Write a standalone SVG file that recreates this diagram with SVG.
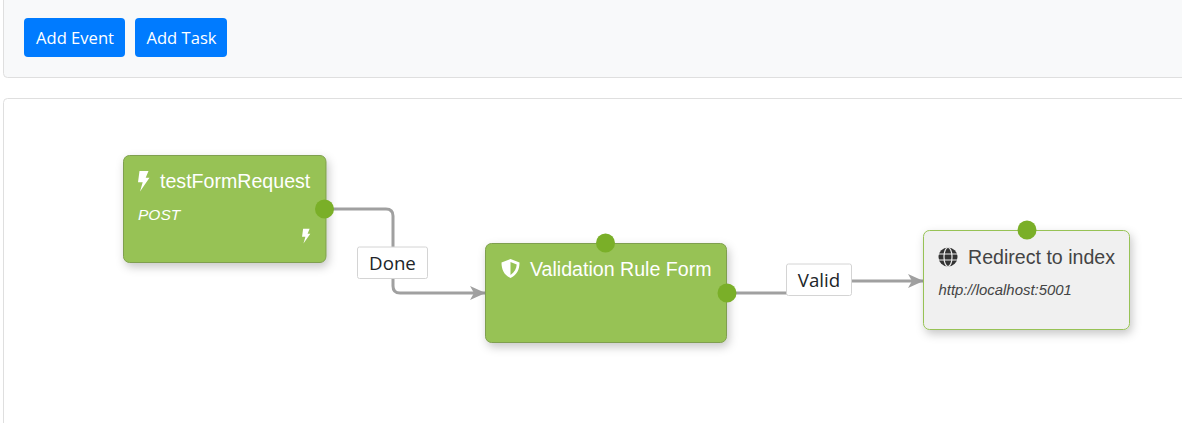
<svg xmlns="http://www.w3.org/2000/svg" width="1182" height="423" viewBox="0 0 1182 423">
<style>
.ui{font-family:"Open Sans","Noto Sans","Liberation Sans",sans-serif}
.btn{fill:#007bff}
.btnt{fill:#fff;font-size:16.6px;text-anchor:middle}
.panel{stroke:#dfdfdf;stroke-width:1}
.node{fill:#97c255;stroke:#7f9f4f;stroke-width:1;filter:url(#sh)}
.t{font-family:"Liberation Sans",Arial,sans-serif}
.tt{font-size:19.6px;fill:#fff}
.port{fill:#7aaf28}
.conn{fill:none;stroke:#a0a0a0;stroke-width:3}
.lb{fill:#fff;stroke:#d4d4d4;stroke-width:1}
.lbt{font-size:18.7px;fill:#212529;text-anchor:middle}
</style>
<defs>
<filter id="sh" x="-15%" y="-20%" width="130%" height="145%"><feDropShadow dx="2" dy="4" stdDeviation="5" flood-color="#000" flood-opacity="0.22"/></filter>
<marker id="arr" markerUnits="userSpaceOnUse" markerWidth="18" markerHeight="18" refX="16" refY="9" orient="auto" viewBox="0 0 18 18"><path d="M0.5 2 L16 9 L0.5 16 L4.5 9 Z" fill="#a0a0a0"/></marker>
<path id="bolt" d="M-4 -10 H5 L2.2 -3.2 H6 L-3.500 10.500 L-0.8 1.2 H-5.500 Z"/>
</defs>
<rect width="1182" height="423" fill="#fff"/>
<g id="toolbar">
<rect class="panel" x="3.500" y="-6" width="1190" height="83.500" rx="4" fill="#f8f9fa"/>
<rect class="panel" x="3.500" y="98.500" width="1190" height="340" rx="4" fill="#fff"/>
</g>
<g id="btn-add-event"><rect class="btn" x="24" y="18" width="101" height="39" rx="4"/><text class="ui btnt" x="75" y="43.500">Add Event</text></g>
<g id="btn-add-task"><rect class="btn" x="135" y="18" width="92" height="39" rx="4"/><text class="ui btnt" x="181.500" y="43.500">Add Task</text></g>
<g id="connectors">
<path class="conn" d="M325 209 H386 Q393 209 393 216 V286 Q393 293 400 293 H485.500" marker-end="url(#arr)"/>
<path class="conn" d="M727 293 H819 V281 H923.500" marker-end="url(#arr)"/>
</g>
<g id="node-event">
<rect class="node" x="123.500" y="155.500" width="202.500" height="107" rx="6"/>
<use href="#bolt" x="143.500" y="181" fill="#fff"/>
<text class="t tt" x="160" y="188">testFormRequest</text>
<text class="t" x="138" y="220" font-size="15.500" font-style="italic" fill="#fff">POST</text>
<use href="#bolt" transform="translate(306 236) scale(.72)" fill="#fff"/>
<circle class="port" cx="324.500" cy="209" r="9.500"/>
</g>
<g id="node-rule">
<rect class="node" x="485.500" y="243.500" width="241" height="99" rx="6"/>
<path d="M510.500 259 L519.500 262.500 C519.500 269.500 517 275 510.500 278 C504 275 501.500 269.500 501.500 262.500 Z M510.500 262 V275 C514.500 272.500 516.500 268.500 516.700 264.500 Z" fill="#fff" fill-rule="evenodd"/>
<text class="t tt" x="530" y="276">Validation Rule Form</text>
<circle class="port" cx="605.500" cy="243" r="9.500"/>
<circle class="port" cx="727" cy="293" r="9.500"/>
</g>
<g id="node-redirect">
<rect x="923.500" y="230.500" width="206" height="99" rx="6" fill="#f0f0f0" stroke="#97c255" stroke-width="1" filter="url(#sh)"/>
<circle cx="948" cy="257" r="9.500" fill="#333"/>
<ellipse cx="948" cy="257" rx="4" ry="9.500" fill="none" stroke="#f0f0f0" stroke-width="1.200"/>
<path d="M938.500 254 H957.500 M938.500 260 H957.500" fill="none" stroke="#f0f0f0" stroke-width="1.200"/>
<text class="t" x="968" y="264" font-size="19.600" fill="#444">Redirect to index</text>
<text class="t" x="938.500" y="294.500" font-size="14.900" font-style="italic" fill="#444">http://localhost:5001</text>
<circle class="port" cx="1027" cy="230" r="9.500"/>
</g>
<g id="label-done"><rect class="lb" x="357.500" y="247" width="70" height="31.500" rx="2"/><text class="ui lbt" x="392.500" y="270">Done</text></g>
<g id="label-valid"><rect class="lb" x="786.500" y="264" width="65" height="31.500" rx="2"/><text class="ui lbt" x="819" y="287">Valid</text></g>
</svg>
